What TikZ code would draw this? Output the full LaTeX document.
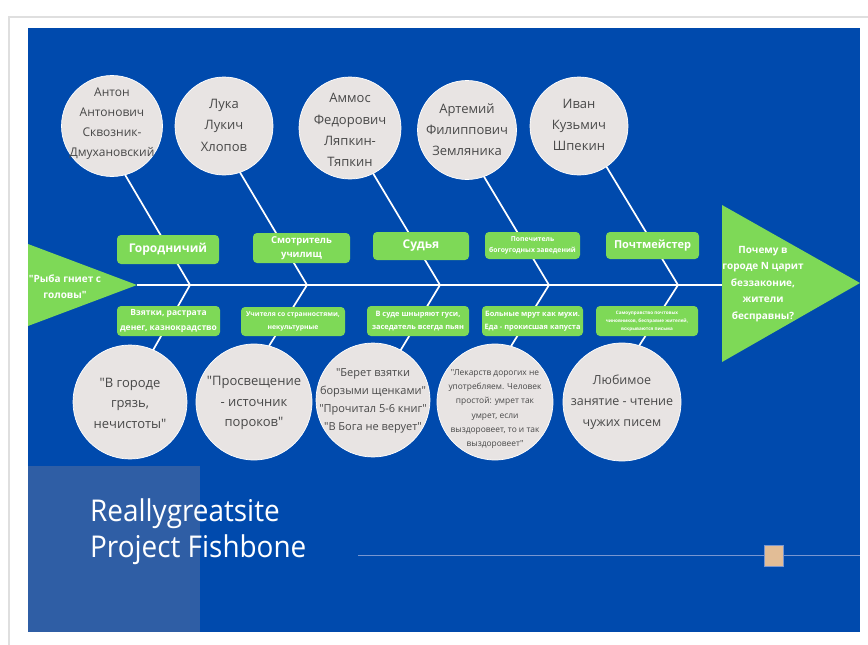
\documentclass[tikz,border=0pt]{standalone}
\usepackage{fontspec}
\setmainfont[Ligatures=TeXOff]{Open Sans}
\newfontfamily\titlefont[FakeStretch=0.93]{Open Sans}
\definecolor{bgblue}{RGB}{0,74,173}
\definecolor{panelblue}{RGB}{47,94,165}
\definecolor{fishgreen}{RGB}{126,217,87}
\definecolor{circfill}{RGB}{232,228,227}
\definecolor{circtext}{RGB}{72,72,72}
\definecolor{tan}{RGB}{226,189,150}
\definecolor{thinline}{RGB}{120,150,208}
\begin{document}
\begin{tikzpicture}[x=1pt,y=-1pt,
  circ/.style={circle, fill=circfill, draw=white, line width=0.7pt, inner sep=0pt, outer sep=0pt},
  ctext/.style={text=circtext, align=center, inner sep=0pt},
  gbox/.style={rounded corners=4pt, fill=fishgreen, text=white, align=center, inner sep=0pt},
  bone/.style={white, line width=1.7pt},
  spine/.style={white, line width=1.3pt}]
\useasboundingbox (0,0) rectangle (868,645);
\fill[white] (0,0) rectangle (868,645);
\fill[gray!25] (8,16) rectangle (868,645);
\fill[white] (10,18) rectangle (868,645);
\fill[bgblue] (28,28) rectangle (860,632);
\fill[panelblue] (28,466) rectangle (200,632);

% junctions and spine ends
\coordinate (J1) at (190,285);
\coordinate (J2) at (307,285);
\coordinate (J3) at (440,285);
\coordinate (J4) at (549,285);
\coordinate (J5) at (678,285);
\coordinate (tailtip) at (137,285);
\coordinate (headbase) at (722,285);

% circles
\node[circ, minimum size=101] (T1) at (112,126) {};
\node[circ, minimum size=98] (T2) at (224,126) {};
\node[circ, minimum size=102] (T3) at (350,128) {};
\node[circ, minimum size=99] (T4) at (467,130) {};
\node[circ, minimum size=98] (T5) at (579,126) {};
\node[circ, minimum size=114] (B1) at (130,402) {};
\node[circ, minimum size=116] (B2) at (254,402) {};
\node[circ, minimum size=114] (B3) at (373,400) {};
\node[circ, minimum size=116] (B4) at (495,402) {};
\node[circ, minimum size=118] (B5) at (622,402) {};

% bones
\draw[spine] (tailtip) -- (headbase);
\draw[bone] (T1.-75) -- (J1) -- (B1.66);
\draw[bone] (T2.-71) -- (J2) -- (B2.75);
\draw[bone] (T3.-63) -- (J3) -- (B3.61);
\draw[bone] (T4.-70) -- (J4) -- (B4.74);
\draw[bone] (T5.-56) -- (J5) -- (B5.73);

% upper labels
\node[gbox, minimum width=102, minimum height=29, font=\bfseries\fontsize{12}{14}\selectfont] (U1) at (168,249.5) {Городничий};
\node[gbox, minimum width=97, minimum height=30, font=\bfseries\fontsize{9.5}{14}\selectfont] (U2) at (301.5,248) {Смотритель\\училищ};
\node[gbox, minimum width=96, minimum height=28, font=\bfseries\fontsize{12}{14}\selectfont] (U3) at (421,246) {Судья};
\node[gbox, minimum width=95, minimum height=27, font=\bfseries\fontsize{6.8}{11}\selectfont] (U4) at (532.5,245.5) {Попечитель\\богоугодных заведений};
\node[gbox, minimum width=93, minimum height=27, font=\bfseries\fontsize{11}{14}\selectfont] (U5) at (652.5,245.5) {Почтмейстер};

% lower labels
\node[gbox, minimum width=103, minimum height=30, font=\bfseries\fontsize{8.5}{15}\selectfont] (L1) at (168.5,321) {Взятки, растрата\\денег, казнокрадство};
\node[gbox, minimum width=104, minimum height=29, font=\bfseries\fontsize{6.8}{13}\selectfont] (L2) at (293,321.5) {Учителя со странностями,\\некультурные};
\node[gbox, minimum width=102, minimum height=30, font=\bfseries\fontsize{7.4}{12.5}\selectfont] (L3) at (418,321) {В суде шныряют гуси,\\заседатель всегда пьян};
\node[gbox, minimum width=101, minimum height=30, font=\bfseries\fontsize{7.4}{12.5}\selectfont] (L4) at (532.5,321) {Больные мрут как мухи.\\Еда - прокисшая капуста};
\node[gbox, minimum width=102, minimum height=30, font=\bfseries\fontsize{4.6}{8}\selectfont] (L5) at (647,321) {Самоуправство почтовых\\чиновников, бесправие жителей,\\вскрываются письма};

% circle texts
\node[ctext, font=\fontsize{12}{20}\selectfont] (T1t) at (112,124) {Антон\\Антонович\\Сквозник-\\Дмухановский};
\node[ctext, font=\fontsize{13}{21.5}\selectfont] (T2t) at (224,125) {Лука\\Лукич\\Хлопов};
\node[ctext, font=\fontsize{13}{21.3}\selectfont] (T3t) at (350,130) {Аммос\\Федорович\\Ляпкин-\\Тяпкин};
\node[ctext, font=\fontsize{13}{21}\selectfont] (T4t) at (467,130) {Артемий\\Филиппович\\Земляника};
\node[ctext, font=\fontsize{13}{21}\selectfont] (T5t) at (579,125) {Иван\\Кузьмич\\Шпекин};
\node[ctext, font=\fontsize{13}{20.5}\selectfont] (B1t) at (130,403) {"В городе\\грязь,\\нечистоты"};
\node[ctext, font=\fontsize{13}{20.5}\selectfont] (B2t) at (254,403) {"Просвещение\\- источник\\пороков"};
\node[ctext, font=\fontsize{11}{18}\selectfont] (B3t) at (373,401) {"Берет взятки\\борзыми щенками"\\"Прочитал 5-6 книг"\\"В Бога не верует"};
\node[ctext, font=\fontsize{8.4}{14.3}\selectfont] (B4t) at (495,409) {"Лекарств дорогих не\\употребляем. Человек\\простой: умрет так\\умрет, если\\выздоровеет, то и так\\выздоровеет"};
\node[ctext, font=\fontsize{12.5}{21}\selectfont] (B5t) at (622,402) {Любимое\\занятие - чтение\\чужих писем};

% tail and head
\begin{scope}
\clip (28,28) rectangle (860,632);
\fill[fishgreen] (20,241) -- (tailtip) -- (20,329) -- cycle;
\node[text=white, align=center, inner sep=0pt, font=\bfseries\fontsize{10}{16}\selectfont] (tailtext) at (65,287) {"Рыба гниет с\\головы"};
\end{scope}
\fill[fishgreen] (722,205) -- (860,283) -- (722,362) -- cycle;
\node[text=white, align=center, inner sep=0pt, font=\bfseries\fontsize{10}{16.5}\selectfont] (headtext) at (763,284) {Почему в\\городе N царит\\беззаконие,\\жители\\бесправны?};

% footer
\node[anchor=base west, text=white, inner sep=0pt, font=\titlefont\fontsize{30}{36}\selectfont] (title1) at (90,521) {Reallygreatsite};
\node[anchor=base west, text=white, inner sep=0pt, font=\titlefont\fontsize{30}{36}\selectfont] (title2) at (90,557) {Project Fishbone};
\coordinate (fl1) at (358,555.5);
\coordinate (fl2) at (860,555.5);
\draw[thinline, line width=1.2pt] (fl1) -- (fl2);
\node[fill=tan, draw=thinline, line width=0.5pt, minimum width=19, minimum height=21, inner sep=0pt] (sq) at (773.5,555.5) {};
\end{tikzpicture}
\end{document}
